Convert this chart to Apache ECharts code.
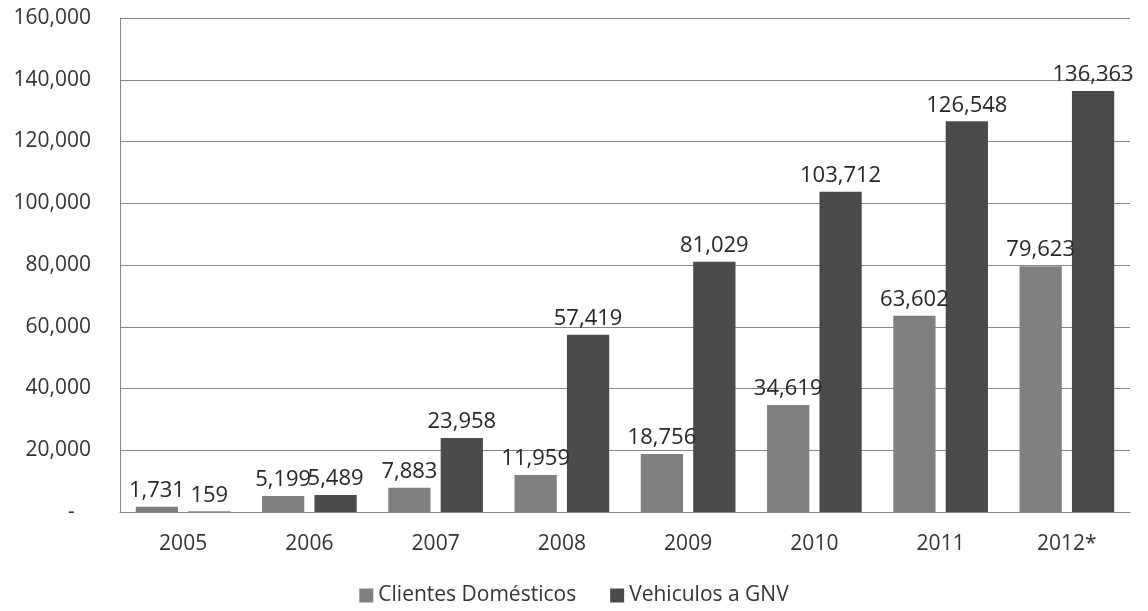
<!DOCTYPE html>
<html>
<head>
<meta charset="utf-8">
<script src="https://cdn.jsdelivr.net/npm/echarts@6/dist/echarts.min.js"></script>
<style>
  html, body { margin: 0; padding: 0; background: #fff; }
  #chart { width: 1148px; height: 611px; }
</style>
</head>
<body>
<div id="chart"></div>
<script>
// años y series
var years = ['2005', '2006', '2007', '2008', '2009', '2010', '2011', '2012*'];
var clientesDomesticos = [1731, 5199, 7883, 11959, 18756, 34619, 63602, 79623];
var vehiculosGNV = [159, 5489, 23958, 57419, 81029, 103712, 126548, 136363];
var seriesNames = ['Clientes Domésticos', 'Vehiculos a GNV'];

var fontFamily = '"Open Sans", "Noto Sans", sans-serif';
var fmt = function (v) {
  return v.toLocaleString('en-US');
};

var chart = echarts.init(document.getElementById('chart'));
var labelStyle = {
  show: true,
  position: 'top',
  distance: 5,
  color: '#262626',
  fontSize: 22,
  fontFamily: fontFamily,
  formatter: function (p) { return fmt(p.value); }
};

chart.setOption({
  animation: false,
  color: ['#808080', '#4b4b4b'],
  grid: { left: 120, right: 18, top: 18, bottom: 99 },
  legend: {
    data: seriesNames,
    bottom: 0,
    left: 'center',
    itemWidth: 14,
    itemHeight: 14,
    itemGap: 34,
    icon: 'rect',
    textStyle: { fontSize: 21, color: '#333', fontFamily: fontFamily }
  },
  xAxis: {
    type: 'category',
    data: years,
    axisLine: { show: true, lineStyle: { color: '#868686', width: 1 } },
    axisTick: { show: false },
    axisLabel: { color: '#333', fontSize: 21, fontFamily: fontFamily, margin: 22 }
  },
  yAxis: {
    type: 'value',
    min: 0,
    max: 160000,
    interval: 20000,
    axisLine: { show: true, lineStyle: { color: '#868686', width: 1 } },
    axisTick: { show: false },
    splitLine: { lineStyle: { color: '#868686', width: 1 } },
    axisLabel: {
      color: '#333',
      fontSize: 21,
      fontFamily: fontFamily,
      margin: 29,
      formatter: function (v) { return v === 0 ? '-   ' : fmt(v); }
    }
  },
  series: [{
    name: seriesNames[0],
    type: 'bar',
    data: clientesDomesticos,
    barGap: '24%',
    barCategoryGap: '25%',
    label: labelStyle
  }, {
    name: seriesNames[1],
    type: 'bar',
    data: vehiculosGNV,
    barGap: '24%',
    barCategoryGap: '25%',
    label: labelStyle
  }]
});
</script>
</body>
</html>
